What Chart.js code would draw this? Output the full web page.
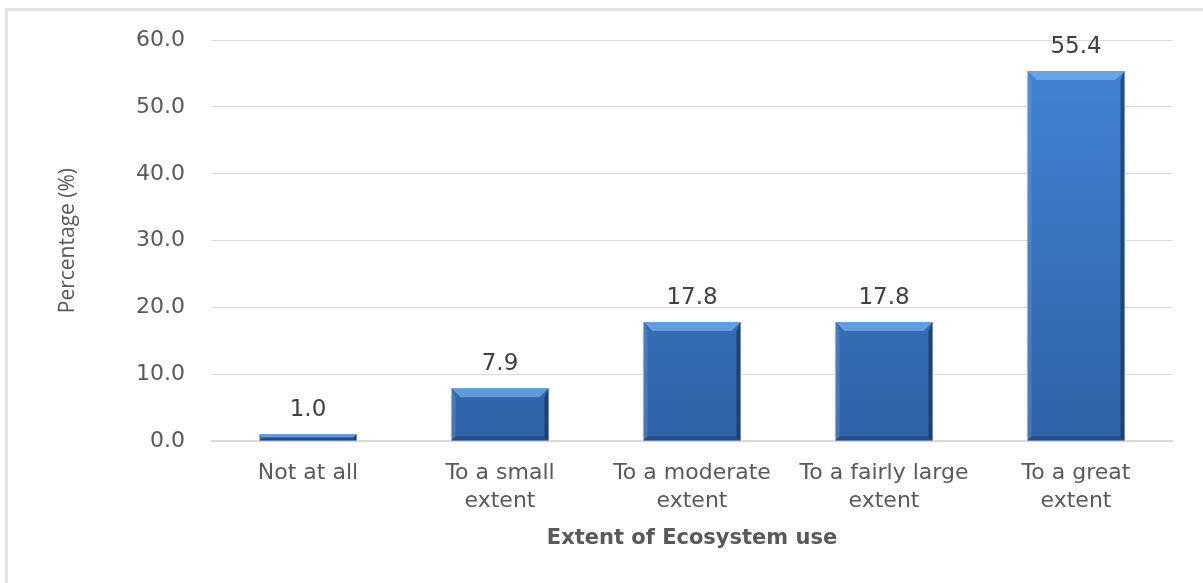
<!DOCTYPE html>
<html>
<head>
<meta charset="utf-8">
<script src="https://cdn.jsdelivr.net/npm/chart.js@4.4.1/dist/chart.umd.min.js"></script>
<style>
  body { margin: 0; background: #fff; }
  #wrap { position: relative; width: 1203px; height: 583px; }
  #frame { position: absolute; left: 5px; top: 8px; width: 1300px; height: 700px;
           border-left: 3px solid #e3e3e3; border-top: 3px solid #e3e3e3; }
  canvas { position: absolute; left: 0; top: 0; }
</style>
</head>
<body>
<div id="wrap">
  <div id="frame"></div>
  <canvas id="myChart" width="1203" height="583"></canvas>
</div>
<script>
const categories = ['Not at all', ['To a small', 'extent'], ['To a moderate', 'extent'], ['To a fairly large', 'extent'], ['To a great', 'extent']];
const percentages = [1.0, 7.9, 17.8, 17.8, 55.4];
const yTicks = [0, 10, 20, 30, 40, 50, 60];

const ctx = document.getElementById('myChart');

// value labels above each bar
const valueLabels = {
  id: 'valueLabels',
  afterDatasetsDraw(chart) {
    const c = chart.ctx;
    const meta = chart.getDatasetMeta(0);
    c.save();
    c.font = '23px "DejaVu Sans", sans-serif';
    c.fillStyle = '#404040';
    c.textAlign = 'center';
    c.textBaseline = 'middle';
    meta.data.forEach((bar, i) => {
      c.fillText(percentages[i].toFixed(1), bar.x, bar.y - 24);
    });
    c.restore();
  }
};

// excel-like bevel on the bars
const bevel = {
  id: 'bevel',
  afterDatasetsDraw(chart) {
    const c = chart.ctx;
    const meta = chart.getDatasetMeta(0);
    c.save();
    meta.data.forEach((bar) => {
      const x0 = bar.x - bar.width / 2, x1 = bar.x + bar.width / 2;
      const y0 = bar.y, y1 = bar.base;
      const h = y1 - y0;
      const b = Math.min(9, h / 2);
      const s = Math.min(4, h / 2);
      // top light bevel
      c.fillStyle = 'rgba(120,178,240,0.7)';
      c.beginPath();
      c.moveTo(x0, y0); c.lineTo(x1, y0); c.lineTo(x1 - b, y0 + b); c.lineTo(x0 + b, y0 + b);
      c.closePath(); c.fill();
      // left edge
      c.fillStyle = 'rgba(120,170,230,0.3)';
      c.beginPath();
      c.moveTo(x0, y0); c.lineTo(x0 + s, y0 + b); c.lineTo(x0 + s, y1 - s); c.lineTo(x0, y1);
      c.closePath(); c.fill();
      // right edge
      c.fillStyle = 'rgba(15,40,80,0.6)';
      c.beginPath();
      c.moveTo(x1, y0); c.lineTo(x1 - s, y0 + b); c.lineTo(x1 - s, y1 - s); c.lineTo(x1, y1);
      c.closePath(); c.fill();
      // bottom edge
      c.fillStyle = 'rgba(15,40,80,0.4)';
      c.beginPath();
      c.moveTo(x0, y1); c.lineTo(x0 + s, y1 - s); c.lineTo(x1 - s, y1 - s); c.lineTo(x1, y1);
      c.closePath(); c.fill();
    });
    c.restore();
  }
};

new Chart(ctx, {
  type: 'bar',
  data: {
    labels: categories,
    datasets: [{
      label: 'Percentage',
      data: percentages,
      borderWidth: 0,
      barPercentage: 0.505,
      categoryPercentage: 1,
      backgroundColor: (context) => {
        const area = context.chart.chartArea;
        if (!area) return '#3a77c4';
        const g = context.chart.ctx.createLinearGradient(0, area.top, 0, area.bottom);
        g.addColorStop(0, '#4286d6');
        g.addColorStop(1, '#2f62a6');
        return g;
      }
    }]
  },
  options: {
    responsive: false,
    animation: false,
    layout: {
      padding: { left: 0, right: 31, top: 38, bottom: 0 }
    },
    plugins: {
      legend: { display: false },
      tooltip: { enabled: false }
    },
    scales: {
      y: {
        min: 0,
        max: 60,
        afterFit: (scale) => { scale.width = 212; },
        afterBuildTicks: (scale) => { scale.ticks = yTicks.map(v => ({ value: v })); },
        ticks: {
          padding: 27,
          color: '#595959',
          font: { family: '"DejaVu Sans", sans-serif', size: 22 },
          callback: (v) => Number(v).toFixed(1)
        },
        grid: { color: '#d9d9d9', lineWidth: 1, drawTicks: false },
        border: { display: false },
        title: {
          display: true,
          text: 'Percentage (%)',
          color: '#595959',
          font: { family: '"Open Sans", sans-serif', size: 21 },
          padding: { top: 55, bottom: 0 }
        }
      },
      x: {
        afterFit: (scale) => { scale.height = 142; },
        ticks: {
          padding: 18,
          color: '#595959',
          maxRotation: 0,
          autoSkip: false,
          font: { family: '"DejaVu Sans", sans-serif', size: 22, lineHeight: '28px' }
        },
        grid: { display: false, drawTicks: false },
        border: { display: true, color: '#d9d9d9', width: 2 },
        title: {
          display: true,
          text: 'Extent of Ecosystem use',
          color: '#595959',
          font: { family: '"DejaVu Sans", sans-serif', size: 21, weight: 'bold' },
          padding: { top: 0, bottom: 32 }
        }
      }
    }
  },
  plugins: [bevel, valueLabels]
});
</script>
</body>
</html>
